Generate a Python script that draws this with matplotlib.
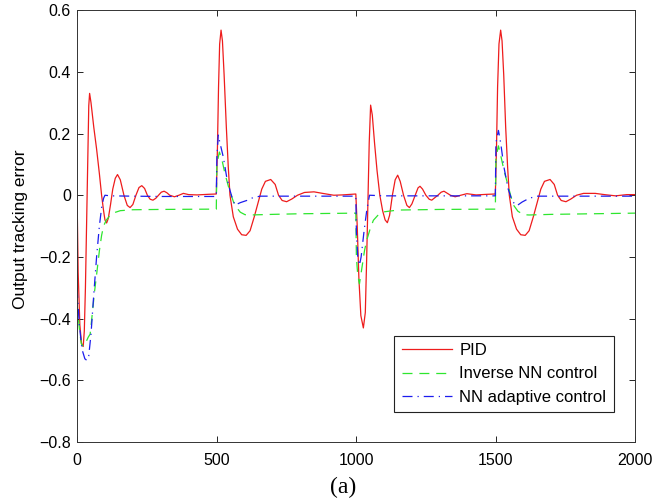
import matplotlib
matplotlib.use("Agg")
import matplotlib.pyplot as plt

plt.rcParams['font.family'] = ['Liberation Sans', 'DejaVu Sans']

# PID response (time, error)
pid_t = [0, 4, 10, 16, 22, 26, 30, 35, 39, 42, 45, 50, 60, 70, 80, 88, 95, 100, 106, 112, 120, 128, 137, 145,
         155, 168, 180, 190, 200, 211, 222, 232, 242, 252, 262, 272, 282, 292, 302, 312, 322, 332, 349, 365, 381,
         400, 430, 470, 499,
         503, 507, 511, 516, 521, 527, 535, 542, 548, 560, 575, 590, 606, 620, 635, 650, 662, 675, 694, 710, 722,
         735, 751, 770, 790, 815, 849, 880, 920, 950, 999,
         1004, 1010, 1017, 1026, 1033, 1038, 1043, 1047, 1052, 1058, 1066, 1075, 1085, 1095, 1104, 1112, 1120,
         1130, 1140, 1149, 1158, 1170, 1182, 1191, 1200, 1212, 1222, 1229, 1238, 1250, 1262, 1271, 1282, 1293,
         1305, 1315, 1327, 1338, 1355, 1375, 1397, 1430, 1470, 1499,
         1503, 1507, 1512, 1518, 1523, 1529, 1536, 1543, 1549, 1560, 1575, 1590, 1606, 1620, 1635, 1650, 1662,
         1675, 1695, 1710, 1722, 1735, 1752, 1770, 1790, 1815, 1857, 1890, 1930, 1970, 2000]
pid_e = [0.0, -0.25, -0.42, -0.48, -0.49, -0.44, -0.3, -0.05, 0.15, 0.29, 0.33, 0.3, 0.22, 0.15, 0.07, 0.0, -0.05,
         -0.08, -0.09, -0.075, -0.03, 0.02, 0.055, 0.067,
         0.05, 0.0, -0.033, -0.04, -0.03, 0.0, 0.025, 0.031, 0.022, 0.0, -0.013, -0.016, -0.01, 0.0, 0.01, 0.013,
         0.008, 0.0, -0.005, 0.0, 0.006,
         0.002, 0.001, 0.003, 0.004,
         0.15, 0.35, 0.49, 0.535, 0.5, 0.39, 0.22, 0.09, 0.0, -0.07, -0.11, -0.128, -0.13, -0.115, -0.07, -0.02,
         0.02, 0.045, 0.051, 0.035, 0.0,
         -0.017, -0.021, -0.012, 0.0, 0.009, 0.011, 0.006, 0.0, 0.001, 0.004,
         -0.1, -0.27, -0.39, -0.43, -0.38, -0.2, 0.0, 0.17, 0.292, 0.26, 0.17, 0.08, 0.0, -0.05, -0.08, -0.089,
         -0.065,
         0.0, 0.05, 0.065, 0.045, 0.0, -0.033, -0.04, -0.028, 0.0, 0.024, 0.029, 0.02, 0.0, -0.013, -0.016,
         -0.008, 0.0,
         0.01, 0.013, 0.006, 0.0, -0.005, 0.0, 0.005, 0.001, 0.003, 0.004,
         0.15, 0.35, 0.49, 0.535, 0.5, 0.39, 0.22, 0.09, 0.0, -0.07, -0.11, -0.128, -0.13, -0.115, -0.07, -0.02,
         0.02,
         0.045, 0.051, 0.035, 0.0, -0.017, -0.021, -0.012, 0.0, 0.006, 0.006, 0.002, -0.002, 0.002, 0.002]

# inverse NN control
inv_t = [0, 8, 15, 22, 30, 40, 47, 55, 63, 71, 80, 88, 95, 105, 119, 135, 155, 200, 300, 499,
         501, 510, 518, 530, 545, 560, 572, 585, 602, 620, 700, 800, 999,
         1001, 1006, 1012, 1020, 1030, 1038, 1050, 1062, 1080, 1098, 1150, 1300, 1499,
         1501, 1510, 1518, 1530, 1545, 1555, 1564, 1580, 1600, 1620, 1700, 1850, 2000]
inv_e = [-0.35, -0.43, -0.48, -0.49, -0.48, -0.46, -0.45, -0.38, -0.31, -0.25, -0.18, -0.13, -0.1, -0.08, -0.065,
         -0.056, -0.05, -0.047, -0.046, -0.045,
         0.1, 0.14, 0.12, 0.07, 0.02, -0.02, -0.04, -0.055, -0.063, -0.064, -0.062, -0.06, -0.058,
         -0.2, -0.26, -0.287, -0.24, -0.18, -0.146, -0.11, -0.081, -0.063, -0.054, -0.048, -0.046, -0.045,
         0.12, 0.16, 0.13, 0.08, 0.03, -0.005, -0.032, -0.052, -0.063, -0.064, -0.062, -0.06, -0.058]

# NN adaptive control
ada_t = [0, 8, 18, 28, 35, 42, 50, 60, 70, 80, 88, 95, 100, 120, 200, 300, 400, 499,
         501, 506, 512, 524, 536, 548, 558, 566, 585, 608, 630, 656, 800, 999,
         1001, 1006, 1012, 1018, 1028, 1038, 1048, 1100, 1300, 1499,
         1501, 1510, 1518, 1530, 1545, 1560, 1576, 1595, 1620, 1648, 2000]
ada_e = [-0.3, -0.42, -0.5, -0.53, -0.535, -0.52, -0.45, -0.32, -0.2, -0.1, -0.04, -0.01, 0.0, -0.002, -0.003,
         -0.004, -0.004, -0.004,
         0.12, 0.195, 0.17, 0.124, 0.06, 0.016, -0.015, -0.032, -0.024, -0.017, -0.008, -0.003, -0.003, -0.003,
         -0.12, -0.2, -0.227, -0.2, -0.12, -0.05, 0.0, -0.002, -0.002, -0.002,
         0.17, 0.21, 0.17, 0.09, 0.02, -0.02, -0.034, -0.022, -0.01, -0.003, -0.003]

xticks = [0, 500, 1000, 1500, 2000]
yticks = [-0.8, -0.6, -0.4, -0.2, 0, 0.2, 0.4, 0.6]
ylabels = ['\u22120.8', '\u22120.6', '\u22120.4', '\u22120.2', '0', '0.2', '0.4', '0.6']

fig = plt.figure(figsize=(6.7, 5.03), dpi=100)
ax = fig.add_axes([0.115, 0.121, 0.833, 0.859])

ax.plot(pid_t, pid_e, color='#ee1c1c', lw=0.9, label='PID')
ax.plot(inv_t, inv_e, color='#2ee62e', lw=0.9, ls=(0, (8, 5.5)), label='Inverse NN control')
ax.plot(ada_t, ada_e, color='#1c1cee', lw=0.9, ls=(0, (8, 4, 1, 4)), label='NN adaptive control')

ax.set_xlim(0, 2000)
ax.set_ylim(-0.8, 0.6)
ax.set_xticks(xticks)
ax.set_yticks(yticks)
ax.set_yticklabels(ylabels)
ax.tick_params(direction='in', top=True, right=True, labelsize=11.5, length=4, width=0.6)
ax.tick_params(axis='y', pad=4.5)
ax.tick_params(axis='x', pad=8)
for s in ax.spines.values():
    s.set_linewidth(0.7)
    s.set_color('#333333')
ax.set_ylabel('Output tracking error', fontsize=12.5)
ax.yaxis.set_label_coords(-0.088, 0.493)

leg = ax.legend(loc='lower right', bbox_to_anchor=(0.962, 0.069), borderaxespad=0, fontsize=12,
                fancybox=False, framealpha=1, edgecolor='#222222', handlelength=3.0, labelspacing=0.5,
                borderpad=0.45, handletextpad=0.45)
leg.get_frame().set_linewidth(0.8)

fig.text(0.512, 0.02, '(a)', family='Liberation Serif', fontsize=17, ha='center')

fig.savefig('out.png', dpi=100)
